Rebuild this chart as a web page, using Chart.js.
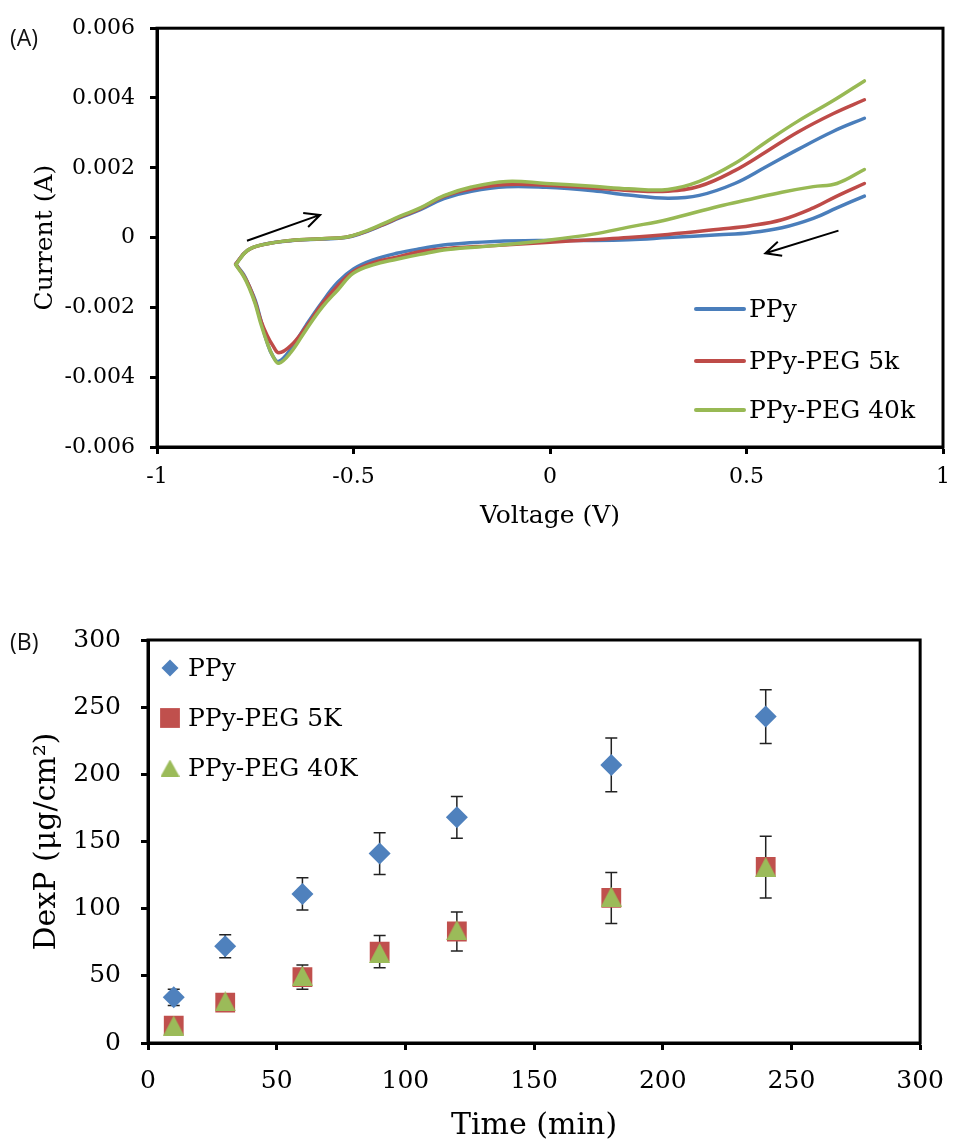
<!DOCTYPE html>
<html>
<head>
<meta charset="utf-8">
<title>PPy films: CV and DexP release</title>
<script src="https://cdn.jsdelivr.net/npm/chart.js@4.4.1/dist/chart.umd.min.js"></script>
<style>
  body { margin: 0; background: #fff; }
  .wrap { position: relative; width: 960px; height: 1146px; }
  canvas { display: block; }
  .tag { position: absolute; left: 10px; font: 23px "Open Sans", sans-serif; line-height: 1; color: #111; }
</style>
</head>
<body>
<div class="wrap">
  <canvas id="cvChart" width="960" height="560"></canvas>
  <canvas id="releaseChart" width="960" height="586"></canvas>
  <div class="tag" style="top:26px">(A)</div>
  <div class="tag" style="top:630px">(B)</div>
</div>
<script>
// ---- (A) cyclic voltammograms ----
// forward scan, -0.8 V -> +0.8 V
const fwdVoltage = [-0.8, -0.77, -0.73, -0.66, -0.58, -0.52, -0.48, -0.43, -0.38, -0.33, -0.27, -0.2,
    -0.11, -0.01, 0.11, 0.2, 0.3, 0.38, 0.47, 0.55, 0.63, 0.72, 0.8];
const ppyFwd = [-0.00076, -0.00037, -0.0002, -0.00009, -0.00004, 0, 0.00012, 0.00034, 0.00058, 0.0008,
    0.00112, 0.00133, 0.00146, 0.00144, 0.00134, 0.00122, 0.00113, 0.00121, 0.00155, 0.00203, 0.00252,
    0.00304, 0.00342];
const peg5Fwd = [-0.00076, -0.00037, -0.0002, -0.00008, -0.00003, 0.00001, 0.00013, 0.00035, 0.0006,
    0.00083, 0.00118, 0.00139, 0.00152, 0.0015, 0.00142, 0.00135, 0.00133, 0.00147, 0.00192, 0.00246,
    0.00302, 0.00355, 0.00395];
const peg40Fwd = [-0.00078, -0.00037, -0.0002, -0.00008, -0.00003, 0.00001, 0.00014, 0.00037, 0.00062,
    0.00085, 0.0012, 0.00145, 0.00161, 0.00155, 0.00147, 0.0014, 0.00138, 0.00161, 0.00212, 0.00274,
    0.00333, 0.00392, 0.00449];

// reverse scan, +0.8 V -> -0.8 V
const revVoltage = [0.8, 0.73, 0.67, 0.59, 0.51, 0.43, 0.3, 0.2, 0.11, -0.01, -0.14, -0.26, -0.33, -0.39,
    -0.45, -0.5, -0.54, -0.58, -0.62, -0.66, -0.69, -0.705, -0.72, -0.735, -0.75, -0.765, -0.78, -0.8];
const ppyRev = [0.00119, 0.00085, 0.00055, 0.00028, 0.00014, 0.00008, 0, -0.00006, -0.00008, -0.00008,
    -0.00011, -0.0002, -0.00032, -0.00045, -0.00064, -0.0009, -0.00128, -0.00185, -0.0025, -0.0032,
    -0.00355, -0.0034, -0.003, -0.0024, -0.0018, -0.0014, -0.00105, -0.00076];
const peg5Rev = [0.00155, 0.00119, 0.00085, 0.00051, 0.00034, 0.00024, 0.00009, 0, -0.00006, -0.00014,
    -0.00023, -0.00031, -0.0004, -0.00056, -0.00072, -0.00097, -0.00138, -0.0019, -0.00255, -0.0031,
    -0.0033, -0.0031, -0.0028, -0.0024, -0.00185, -0.0014, -0.00108, -0.00076];
const peg40Rev = [0.00195, 0.00155, 0.00146, 0.0013, 0.0011, 0.0009, 0.00052, 0.0003, 0.0001, -0.00008,
    -0.00023, -0.00034, -0.00048, -0.00062, -0.00078, -0.00102, -0.0015, -0.002, -0.00263, -0.0033,
    -0.0036, -0.0034, -0.003, -0.0025, -0.0019, -0.00145, -0.0011, -0.00078];

const voltTicks = [-1, -0.5, 0, 0.5, 1];
const currentTicks = [-0.006, -0.004, -0.002, 0, 0.002, 0.004, 0.006];

// ---- (B) DexP release ----
const times = [10, 30, 60, 90, 120, 180, 240];
const ppyRelease = [34, 72, 111, 141, 168, 207, 243];
const ppyErr = [6, 8.5, 12, 15.5, 15.5, 20, 20];
const peg5Release = [13, 30, 49, 68, 83, 108, 131];
const peg5Err = [0, 0, 9, 12, 14.5, 19, 23];
const peg40Release = [13, 31, 50, 67, 84, 109, 131];

const timeTicks = [0, 50, 100, 150, 200, 250, 300];
const dexTicks = [0, 50, 100, 150, 200, 250, 300];

const serif = '"DejaVu Serif", serif';

// scan direction arrows, in data units
const scanArrows = [
    { from: [-0.771, -0.00009], to: [-0.585, 0.00065] },
    { from: [0.734, 0.0002], to: [0.548, -0.00045] }
];

function loop(rev, fwd) {
    // reverse branch first so the two ends at +0.8 V stay open
    const pts = revVoltage.map((v, i) => ({ x: v, y: rev[i] }));
    return pts.concat(fwdVoltage.map((v, i) => ({ x: v, y: fwd[i] })));
}

function points(ys) {
    return times.map((t, i) => ({ x: t, y: ys[i] }));
}

// Excel-style triangle marker: fills its box, so it sits inside the square
function triangleMarker(w, h, color) {
    const c = document.createElement('canvas');
    c.width = w; c.height = h;
    const g = c.getContext('2d');
    g.fillStyle = color;
    g.beginPath();
    g.moveTo(w / 2, 0);
    g.lineTo(w, h);
    g.lineTo(0, h);
    g.closePath();
    g.fill();
    return c;
}
const greenTriangle = triangleMarker(21, 20, '#9BBB59');
const greenTriangleSmall = triangleMarker(19, 17, '#9BBB59');

const frame = {
    id: 'frame',
    afterDraw(chart) {
        const a = chart.chartArea, ctx = chart.ctx;
        ctx.save();
        ctx.strokeStyle = '#000';
        ctx.lineWidth = 3;
        ctx.strokeRect(a.left, a.top, a.right - a.left, a.bottom - a.top);
        ctx.restore();
    }
};

const arrows = {
    id: 'arrows',
    afterDatasetsDraw(chart) {
        const ctx = chart.ctx, sx = chart.scales.x, sy = chart.scales.y;
        ctx.save();
        ctx.strokeStyle = '#000';
        ctx.lineWidth = 2;
        scanArrows.forEach(a => {
            const x1 = sx.getPixelForValue(a.from[0]), y1 = sy.getPixelForValue(a.from[1]);
            const x2 = sx.getPixelForValue(a.to[0]), y2 = sy.getPixelForValue(a.to[1]);
            const ang = Math.atan2(y2 - y1, x2 - x1);
            ctx.beginPath();
            ctx.moveTo(x1, y1);
            ctx.lineTo(x2, y2);
            ctx.moveTo(x2 - 17 * Math.cos(ang - 0.45), y2 - 17 * Math.sin(ang - 0.45));
            ctx.lineTo(x2, y2);
            ctx.lineTo(x2 - 17 * Math.cos(ang + 0.45), y2 - 17 * Math.sin(ang + 0.45));
            ctx.stroke();
        });
        ctx.restore();
    }
};

const cvLegend = {
    id: 'cvLegend',
    afterDraw(chart) {
        const a = chart.chartArea, ctx = chart.ctx;
        const rows = [138, 86, 37];
        ctx.save();
        ctx.font = '25px ' + serif;
        ctx.textBaseline = 'middle';
        ctx.fillStyle = '#000';
        ctx.lineCap = 'round';
        chart.data.datasets.forEach((ds, i) => {
            const y = a.bottom - rows[i];
            ctx.strokeStyle = ds.borderColor;
            ctx.lineWidth = 4;
            ctx.beginPath();
            ctx.moveTo(a.right - 247, y);
            ctx.lineTo(a.right - 199, y);
            ctx.stroke();
            ctx.fillText(ds.label, a.right - 194, y + 1);
        });
        ctx.restore();
    }
};

const errorBars = {
    id: 'errorBars',
    beforeDatasetsDraw(chart) {
        const ctx = chart.ctx, sx = chart.scales.x, sy = chart.scales.y;
        ctx.save();
        ctx.strokeStyle = '#222';
        ctx.lineWidth = 1.5;
        chart.data.datasets.forEach(ds => {
            if (!ds.errors) return;
            ds.data.forEach((p, i) => {
                const e = ds.errors[i];
                if (!e) return;
                const x = sx.getPixelForValue(p.x);
                const yt = sy.getPixelForValue(p.y + e), yb = sy.getPixelForValue(p.y - e);
                ctx.beginPath();
                ctx.moveTo(x, yt); ctx.lineTo(x, yb);
                ctx.moveTo(x - 6, yt); ctx.lineTo(x + 6, yt);
                ctx.moveTo(x - 6, yb); ctx.lineTo(x + 6, yb);
                ctx.stroke();
            });
        });
        ctx.restore();
    }
};

const releaseLegend = {
    id: 'releaseLegend',
    afterDraw(chart) {
        const a = chart.chartArea, ctx = chart.ctx;
        const rows = [28, 78, 128];
        const styles = ['rectRot', 'rect', greenTriangleSmall];
        const sizes = [8.5, 14, 10];
        ctx.save();
        ctx.font = '25px ' + serif;
        ctx.textBaseline = 'middle';
        chart.data.datasets.forEach((ds, i) => {
            const y = a.top + rows[i];
            ctx.fillStyle = ds.backgroundColor;
            Chart.helpers.drawPoint(ctx, { pointStyle: styles[i], radius: sizes[i], rotation: 0, borderWidth: 0 }, a.left + 22, y);
            ctx.fillStyle = '#000';
            ctx.fillText(ds.label, a.left + 40, y + 1);
        });
        ctx.restore();
    }
};

const tickGrid = { display: true, drawOnChartArea: false, drawTicks: true, tickLength: 7, tickWidth: 3, tickColor: '#000' };
const axisBorder = { display: true, color: '#000', width: 3 };

// later series sit on top, as in the original plot
const configCV = {
    type: 'scatter',
    data: {
        datasets: [
            { label: 'PPy', order: 3, data: loop(ppyRev, ppyFwd), borderColor: '#4A7EBB' },
            { label: 'PPy-PEG 5k', order: 2, data: loop(peg5Rev, peg5Fwd), borderColor: '#BE4B48' },
            { label: 'PPy-PEG 40k', order: 1, data: loop(peg40Rev, peg40Fwd), borderColor: '#98B954' }
        ]
    },
    options: {
        responsive: false,
        animation: false,
        showLine: true,
        layout: { padding: { top: 22, right: 7, left: 0, bottom: 0 } },
        elements: {
            line: { borderWidth: 3.5, tension: 0.4, borderCapStyle: 'round', borderJoinStyle: 'round' },
            point: { radius: 0, hoverRadius: 0 }
        },
        plugins: { legend: { display: false }, tooltip: { enabled: false } },
        scales: {
            x: {
                min: -1, max: 1,
                afterBuildTicks: s => { s.ticks = voltTicks.map(v => ({ value: v })); },
                afterFit: s => { s.height = 113; },
                grid: tickGrid, border: axisBorder,
                ticks: { color: '#000', padding: 10, autoSkip: false, maxRotation: 0, font: { family: serif, size: 22 }, callback: v => String(v) },
                title: { display: true, text: 'Voltage (V)', color: '#000', font: { family: serif, size: 25 }, padding: { top: 0, bottom: 29 } }
            },
            y: {
                min: -0.006, max: 0.006,
                afterBuildTicks: s => { s.ticks = currentTicks.map(v => ({ value: v })); },
                afterFit: s => { s.width = 157; },
                grid: tickGrid, border: axisBorder,
                ticks: { color: '#000', padding: 15, autoSkip: false, font: { family: serif, size: 22 }, callback: v => String(v) },
                title: { display: true, text: 'Current (A)', color: '#000', font: { family: serif, size: 25 }, padding: { top: 30, bottom: 0 } }
            }
        }
    },
    plugins: [frame, arrows, cvLegend]
};

const configRelease = {
    type: 'scatter',
    data: {
        datasets: [
            { label: 'PPy', order: 3, data: points(ppyRelease), errors: ppyErr, pointStyle: 'rectRot', pointRadius: 11, backgroundColor: '#4F81BD' },
            { label: 'PPy-PEG 5K', order: 2, data: points(peg5Release), errors: peg5Err, pointStyle: 'rect', pointRadius: 14, backgroundColor: '#C0504D' },
            { label: 'PPy-PEG 40K', order: 1, data: points(peg40Release), pointStyle: greenTriangle, pointRadius: 10, backgroundColor: '#9BBB59' }
        ]
    },
    options: {
        responsive: false,
        animation: false,
        layout: { padding: { top: 80, right: 29, left: 0, bottom: 0 } },
        elements: { point: { borderWidth: 0, hoverBorderWidth: 0 } },
        plugins: { legend: { display: false }, tooltip: { enabled: false } },
        scales: {
            x: {
                min: 0, max: 300,
                afterBuildTicks: s => { s.ticks = timeTicks.map(v => ({ value: v })); },
                afterFit: s => { s.height = 103; },
                grid: tickGrid, border: axisBorder,
                ticks: { color: '#000', padding: 16, autoSkip: false, maxRotation: 0, font: { family: serif, size: 25 } },
                title: { display: true, text: 'Time (min)', color: '#000', font: { family: serif, size: 30 }, padding: { top: 0, bottom: 2 } }
            },
            y: {
                min: 0, max: 300,
                afterBuildTicks: s => { s.ticks = dexTicks.map(v => ({ value: v })); },
                afterFit: s => { s.width = 148; },
                grid: tickGrid, border: axisBorder,
                ticks: { color: '#000', padding: 20, autoSkip: false, font: { family: serif, size: 25 } },
                title: { display: true, text: 'DexP (μg/cm²)', color: '#000', font: { family: serif, size: 30 }, padding: { top: 29, bottom: 0 } }
            }
        }
    },
    plugins: [frame, errorBars, releaseLegend]
};

new Chart(document.getElementById('cvChart'), configCV);
new Chart(document.getElementById('releaseChart'), configRelease);
</script>
</body>
</html>
